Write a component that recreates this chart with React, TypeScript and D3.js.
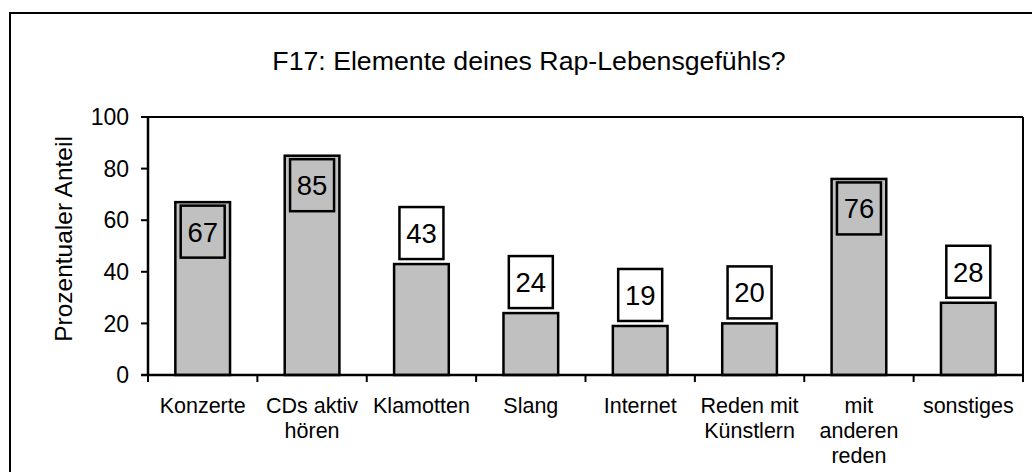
import React from "react";
import * as d3 from "d3";

const categories: string[][] = [
  ["Konzerte"],
  ["CDs aktiv", "hören"],
  ["Klamotten"],
  ["Slang"],
  ["Internet"],
  ["Reden mit", "Künstlern"],
  ["mit", "anderen", "reden"],
  ["sonstiges"],
];
const values: number[] = [67, 85, 43, 24, 19, 20, 76, 28];
const yTicks: number[] = [0, 20, 40, 60, 80, 100];
const title = "F17: Elemente deines Rap-Lebensgefühls?";
const yTitle = "Prozentualer Anteil";

const W = 1032;
const H = 472;
const left = 148;
const right = 1023;
const top = 117;
const bottom = 375;
const FONT = "Arial, 'Liberation Sans', sans-serif";
const GRAY = "#c0c0c0";

export default function App() {
  const keys = categories.map((c) => c.join(" "));
  const x = d3
    .scaleBand<string>()
    .domain(keys)
    .range([left, right])
    .paddingInner(0.5)
    .paddingOuter(0.25);
  const y = d3.scaleLinear().domain([0, 100]).range([bottom, top]);
  const step = x.step();
  const bw = x.bandwidth();
  const boxW = 44;
  const boxH = 52;
  const boundaries = d3.range(keys.length + 1).map((i) => left + i * step);

  return (
    <svg
      width={W}
      height={H}
      style={{ position: "absolute", left: 0, top: 0, background: "#fff" }}
      fontFamily={FONT}
    >
      <rect x={0} y={0} width={W} height={H} fill="#fff" />
      {/* outer border */}
      <rect x={10} y={13} width={W + 20} height={H + 20} fill="none" stroke="#000" strokeWidth={2} />
      {/* title */}
      <text x={529} y={70} textAnchor="middle" fontSize={26.7} fill="#000">
        {title}
      </text>
      {/* plot frame */}
      <line x1={left} x2={right} y1={top} y2={top} stroke="#000" strokeWidth={2} />
      <line x1={right} x2={right} y1={top} y2={bottom} stroke="#000" strokeWidth={2} />
      {/* bars */}
      {values.map((v, i) => (
        <rect
          key={"b" + i}
          x={x(keys[i])!}
          y={y(v)}
          width={bw}
          height={y(0) - y(v)}
          fill={GRAY}
          stroke="#000"
          strokeWidth={2.5}
        />
      ))}
      {/* data labels */}
      {values.map((v, i) => {
        const inside = v > 50;
        const cx = x(keys[i])! + bw / 2;
        const by = inside ? y(v) + 3.5 : y(v) - 5 - boxH;
        return (
          <g key={"l" + i}>
            <rect
              x={cx - boxW / 2}
              y={by}
              width={boxW}
              height={boxH}
              fill={inside ? GRAY : "#fff"}
              stroke="#000"
              strokeWidth={2.5}
            />
            <text x={cx} y={by + boxH / 2} dy="0.36em" textAnchor="middle" fontSize={27.5} fill="#000">
              {v}
            </text>
          </g>
        );
      })}
      {/* y axis */}
      <line x1={left} x2={left} y1={top} y2={bottom} stroke="#000" strokeWidth={2.5} />
      {yTicks.map((t) => (
        <g key={"yt" + t}>
          <line x1={left - 7} x2={left} y1={y(t)} y2={y(t)} stroke="#000" strokeWidth={2} />
          <text x={129} y={y(t)} dy="0.36em" textAnchor="end" fontSize={23} fill="#000">
            {t}
          </text>
        </g>
      ))}
      {/* x axis */}
      <line x1={left - 7} x2={right} y1={bottom} y2={bottom} stroke="#000" strokeWidth={2.5} />
      {boundaries.map((bx, i) => (
        <line key={"xt" + i} x1={bx} x2={bx} y1={bottom} y2={bottom + 7} stroke="#000" strokeWidth={2} />
      ))}
      {categories.map((lines, i) => (
        <text key={"c" + i} textAnchor="middle" fontSize={21.5} fill="#000">
          {lines.map((ln, j) => (
            <tspan key={j} x={x(keys[i])! + bw / 2} y={413 + j * 25}>
              {ln}
            </tspan>
          ))}
        </text>
      ))}
      {/* y title */}
      <text
        transform={`translate(72,239) rotate(-90)`}
        textAnchor="middle"
        fontSize={24.5}
        fill="#000"
      >
        {yTitle}
      </text>
    </svg>
  );
}
